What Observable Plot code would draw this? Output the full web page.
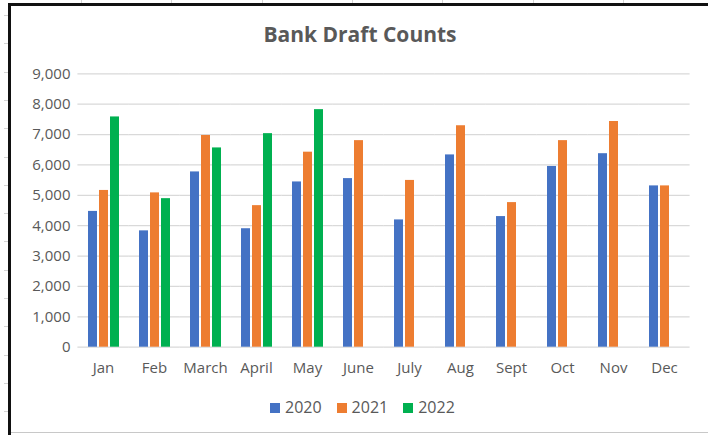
<!DOCTYPE html>
<html><head><meta charset="utf-8">
<script src="https://cdn.jsdelivr.net/npm/d3@7"></script>
<script src="https://cdn.jsdelivr.net/npm/@observablehq/plot@0.6"></script>
<style>
body{margin:0;background:#fff;}
#wrap{position:relative;width:708px;height:435px;overflow:hidden;background:#fff;font-family:"Open Sans",sans-serif;color:#595959;}
.bl{position:absolute;left:8px;top:3px;width:3px;height:432px;background:#111;}
.bt{position:absolute;left:8px;top:3px;width:700px;height:3px;background:#111;}
.bb{position:absolute;left:11px;top:432px;width:697px;height:1px;background:#c8c8c8;}
.tk{position:absolute;background:#d4d4d4;}
#title{position:absolute;left:10px;width:700px;top:22px;line-height:25px;text-align:center;font-weight:bold;font-size:21px;color:#595959;}
#chart{position:absolute;left:0;top:55px;}
#legend{position:absolute;top:398px;left:270px;display:flex;align-items:center;line-height:19px;font-size:16px;color:#595959;}
#legend .it{display:flex;align-items:center;margin-right:15px;}
#legend .sw{width:10px;height:10px;margin-right:5px;}
</style></head>
<body><div id="wrap">
<div id="title">Bank Draft Counts</div>
<div id="chart"></div>
<div id="legend"></div>
<div class="bl"></div><div class="bt"></div><div class="bb"></div>
</div>
<script>
const months = ["Jan","Feb","March","April","May","June","July","Aug","Sept","Oct","Nov","Dec"];
const series = ["2020","2021","2022"];
const colors = ["#4472C4","#ED7D31","#00B050"];
const values2020 = [4470,3830,5770,3900,5440,5550,4190,6330,4300,5950,6370,5310];
const values2021 = [5160,5080,6970,4660,6420,6800,5490,7290,4760,6800,7430,5310];
const values2022 = [7580,4890,6560,7030,7820,null,null,null,null,null,null,null];
const yTicks = [0,1000,2000,3000,4000,5000,6000,7000,8000,9000];

const seriesValues = [values2020, values2021, values2022];
const rows = months.flatMap((m, i) => series.map((s, j) => ({month: m, series: s, value: seriesValues[j][i]})))
  .filter(d => d.value != null);

const wrap = document.getElementById("wrap");
// Excel sheet gridline stubs outside the chart border
for (let k = 0; k < 15; k++) { const t = document.createElement("div"); t.className = "tk"; t.style.cssText = `left:4px;top:${15 + k*28.3}px;width:4px;height:1px;`; wrap.appendChild(t); }
for (let k = 0; k < 7; k++) { const t = document.createElement("div"); t.className = "tk"; t.style.cssText = `left:${81 + k*90.3}px;top:0px;width:1px;height:3px;`; wrap.appendChild(t); }

const pInner = 0.33, pOuter = 0.165;
const chart = Plot.plot({
  width: 708, height: 330,
  marginLeft: 76, marginRight: 16, marginTop: 18.3, marginBottom: 38.3,
  style: {fontFamily: "'Open Sans', sans-serif", fontSize: "15px", color: "#595959", background: "transparent", overflow: "visible"},
  fx: {domain: months, paddingInner: pInner, paddingOuter: pOuter, label: null, axis: null},
  x: {domain: series, paddingInner: 0.2, paddingOuter: 0.1, axis: null},
  y: {domain: [0, 9000], label: null, axis: null},
  color: {domain: series, range: colors},
  marks: [
    Plot.ruleY(yTicks, {y: d => d, stroke: "#d9d9d9", strokeWidth: 1.3, insetLeft: -8.6, insetRight: -8.6}),
    Plot.barY(rows, {fx: "month", x: "series", y: "value", fill: "series"}),
    Plot.axisY({ticks: yTicks, tickSize: 0, tickPadding: 16, tickFormat: d3.format(","), label: null}),
    Plot.axisFx({anchor: "bottom", tickSize: 0, tickPadding: 15, label: null})
  ]
});
document.getElementById("chart").appendChild(chart);

const legend = document.getElementById("legend");
series.forEach((s, i) => {
  const it = document.createElement("div"); it.className = "it";
  const sw = document.createElement("div"); sw.className = "sw"; sw.style.background = colors[i];
  const tx = document.createElement("span"); tx.textContent = s;
  it.appendChild(sw); it.appendChild(tx); legend.appendChild(it);
});
</script>
</body></html>
